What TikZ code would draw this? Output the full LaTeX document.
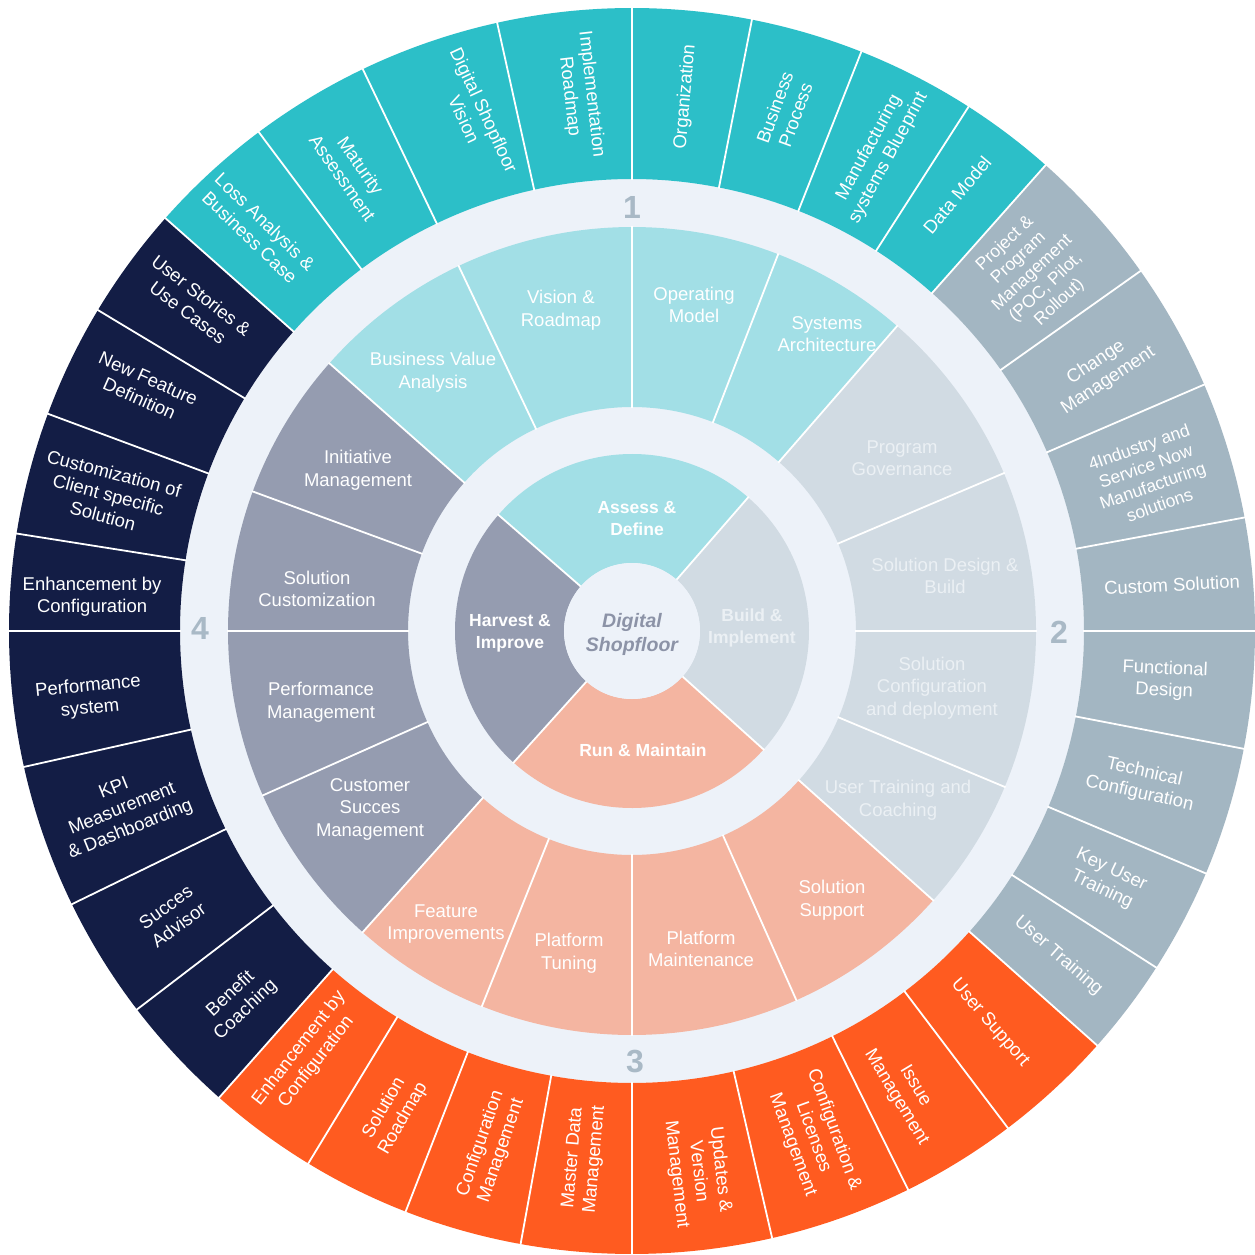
\documentclass[tikz,border=0pt]{standalone}
\usepackage{fontspec}
\setmainfont{Liberation Sans}
\definecolor{cTeal}{HTML}{2CBFC8}
\definecolor{cGray}{HTML}{A3B6C2}
\definecolor{cOrange}{HTML}{FF5B20}
\definecolor{cNavy}{HTML}{131D45}
\definecolor{cLTeal}{HTML}{A2DFE6}
\definecolor{cLGray}{HTML}{D1DBE3}
\definecolor{cSalmon}{HTML}{F4B5A1}
\definecolor{cHarv}{HTML}{959CB0}
\definecolor{cBg}{HTML}{EDF2F9}
\definecolor{cNum}{HTML}{A9B9C6}
\definecolor{cCtr}{HTML}{8C93A7}
\definecolor{cBuildTxt}{HTML}{EBF0F4}
\newcommand{\annsec}[5]{\fill[#1] (#2:#4pt) arc[start angle=#2,end angle=#3,radius=#4pt] -- (#3:#5pt) arc[start angle=#3,end angle=#2,radius=#5pt] -- cycle;}
\begin{document}
\begin{tikzpicture}[x=1pt,y=1pt,
  otext/.style={text=white, align=center, font=\fontsize{18.5}{22}\selectfont, inner sep=0pt},
  mtext/.style={text=white, align=center, font=\fontsize{18.5}{22.5}\selectfont, inner sep=0pt},
  itext/.style={text=white, align=center, font=\fontsize{17.5}{22}\selectfont\bfseries, inner sep=0pt},
  numtext/.style={text=cNum, font=\fontsize{32}{32}\selectfont\bfseries, inner sep=0pt},
  sep/.style={white, line width=1.8pt}]
\useasboundingbox[fill=white] (-632,-623) rectangle (623,631);
% light base disc
\fill[cBg] (0,0) circle[radius=452pt];
% outer ring sections
\annsec{cTeal}{48.4}{138.5}{452}{623}
\annsec{cNavy}{138.5}{228.5}{452}{623}
\annsec{cOrange}{228.5}{318.3}{452}{623}
\annsec{cGray}{-41.7}{48.4}{452}{623}
\foreach \a in {138.5,126.8,115.6,102.5,90,78.9,68.4,57.3,48.4,35.3,23.3,10.5,0,-10.9,-22.9,-32.7,-41.7,-52.9,-63.7,-77,-90,-100.3,-111.3,-121.3,-131.5,-142.6,-154,-167.4,-180,-189,-200.4,-211}
  {\draw[sep] (\a:451pt) -- (\a:624pt);}
% middle ring quadrants
\annsec{cLTeal}{49}{138.5}{224}{404}
\annsec{cHarv}{138.5}{228.2}{224}{404}
\annsec{cSalmon}{228.2}{318.2}{224}{404}
\annsec{cLGray}{-41.8}{49}{224}{404}
\foreach \a in {138.5,115.4,90,68.8,49,23,0,-22.7,-41.8,-66,-90,-111.8,-131.8,-156,-180,-200.2}
  {\draw[sep] (\a:223pt) -- (\a:405pt);}
% inner quadrants
\annsec{cLTeal}{49}{139}{68}{177}
\annsec{cHarv}{139}{228}{68}{177}
\annsec{cSalmon}{228}{318}{68}{177}
\annsec{cLGray}{-42}{49}{68}{177}
\foreach \a in {49,139,228,318}
  {\draw[sep] (\a:67pt) -- (\a:178pt);}
\fill[cBg] (0,0) circle[radius=68pt];
% numbers
\node[numtext] (n1) at (0,424) {1};
\node[numtext] (n2) at (427,-1) {2};
\node[numtext] (n3) at (3,-430) {3};
\node[numtext] (n4) at (-432,3) {4};
% center and inner labels
\node[text=cCtr, align=center, font=\fontsize{19.5}{24}\selectfont\bfseries\itshape, inner sep=0pt] (ctr) at (0,-3) {Digital\\Shopfloor};
\node[itext] (i1) at (5,112) {Assess \&\\Define};
\node[itext, text=cBuildTxt] (i2) at (120,3) {Build \&\\Implement};
\node[itext] (i3) at (11,-119) {Run \& Maintain};
\node[itext] (i4) at (-122,-2) {Harvest \&\\Improve};
% middle labels
\node[mtext] (m1) at (-199,259) {Business Value\\Analysis};
\node[mtext] (m2) at (-71,321) {Vision \&\\Roadmap};
\node[mtext] (m3) at (62,326) {Operating\\Model};
\node[mtext] (m4) at (195,297) {Systems\\Architecture};
\node[mtext, text=cBuildTxt] (m5) at (270,173) {Program\\Governance};
\node[mtext, text=cBuildTxt] (m6) at (313,55) {Solution Design \&\\Build};
\node[mtext, text=cBuildTxt] (m7) at (300,-57) {Solution\\Configuration\\and deployment};
\node[mtext, text=cBuildTxt] (m8) at (266,-169) {User Training and\\Coaching};
\node[mtext] (m9) at (200,-269) {Solution\\Support};
\node[mtext] (m10) at (69,-318) {Platform\\Maintenance};
\node[mtext] (m11) at (-63,-322) {Platform\\Tuning};
\node[mtext] (m12) at (-186,-293) {Feature\\Improvements};
\node[mtext] (m13) at (-262,-178) {Customer\\Succes\\Management};
\node[mtext] (m14) at (-311,-71) {Performance\\Management};
\node[mtext] (m15) at (-315,42) {Solution\\Customization};
\node[mtext] (m16) at (-274,161) {Initiative\\Management};
% outer labels
\node[otext, rotate=-44] (o1) at (133:549pt) {Loss Analysis \&\\Business Case};
\node[otext, rotate=-55] (o2) at (121.4:538pt) {Maturity\\Assessment};
\node[otext, rotate=-65] (o3) at (107:540pt) {Digital Shopfloor\\Vision};
\node[otext, rotate=-83.5] (o4) at (95.5:538pt) {Implementation\\Roadmap};
\node[otext, rotate=85] (o5) at (84.3:537pt) {Organization};
\node[otext, rotate=70] (o6) at (73.6:542pt) {Business\\Process};
\node[otext, rotate=61.5] (o7) at (62.7:538pt) {Manufacturing\\systems Blueprint};
\node[otext, rotate=50] (o8) at (53.3:544pt) {Data Model};
\node[otext, rotate=43, font=\fontsize{17.5}{20}\selectfont] (o9) at (41.8:537pt) {Project \&\\Program\\Management\\(POC, Pilot,\\Rollout)};
\node[otext, rotate=33.5] (o10) at (28.9:537pt) {Change\\Management};
\node[otext, rotate=19.5, font=\fontsize{17.5}{20.5}\selectfont] (o11) at (16.7:540pt) {4Industry and\\Service Now\\Manufacturing\\solutions};
\node[otext, rotate=3] (o12) at (4.9:542pt) {Custom Solution};
\node[otext, rotate=-2.5] (o13) at (-5.3:535pt) {Functional\\Design};
\node[otext, rotate=-12.5] (o14) at (-16.6:532pt) {Technical\\Configuration};
\node[otext, rotate=-25.5] (o15) at (-27.7:536pt) {Key User\\Training};
\node[otext, rotate=-41] (o16) at (-37.3:536pt) {User Training};
\node[otext, rotate=-49] (o17) at (-47.6:531pt) {User Support};
\node[otext, rotate=-59] (o18) at (-59.3:536pt) {Issue\\Management};
\node[otext, rotate=-70] (o19) at (-70.3:538pt) {Configuration \&\\Licenses\\Management};
\node[otext, rotate=-83.5] (o20) at (-83:545pt) {Updates \&\\Version\\Management};
\node[otext, rotate=85] (o21) at (264.8:530pt) {Master Data\\Management};
\node[otext, rotate=71] (o22) at (254.7:535pt) {Configuration\\Management};
\node[otext, rotate=60] (o23) at (243.7:538pt) {Solution\\Roadmap};
\node[otext, rotate=52] (o24) at (232.6:534pt) {Enhancement by\\Configuration};
\node[otext, rotate=43] (o25) at (223.3:541pt) {Benefit\\Coaching};
\node[otext, rotate=36] (o26) at (211.8:541pt) {Succes\\Advisor};
\node[otext, rotate=22] (o27) at (199.3:540pt) {KPI\\Measurement\\\& Dashboarding};
\node[otext, rotate=5.5] (o28) at (187:547pt) {Performance\\system};
\node[otext, rotate=0] (o29) at (176.4:541pt) {Enhancement by\\Configuration};
\node[otext, rotate=-14.8] (o30) at (165.4:541pt) {Customization of\\Client specific\\Solution};
\node[otext, rotate=-24] (o31) at (153.6:545pt) {New Feature\\Definition};
\node[otext, rotate=-37.5] (o32) at (143.2:546pt) {User Stories \&\\Use Cases};
\end{tikzpicture}
\end{document}
